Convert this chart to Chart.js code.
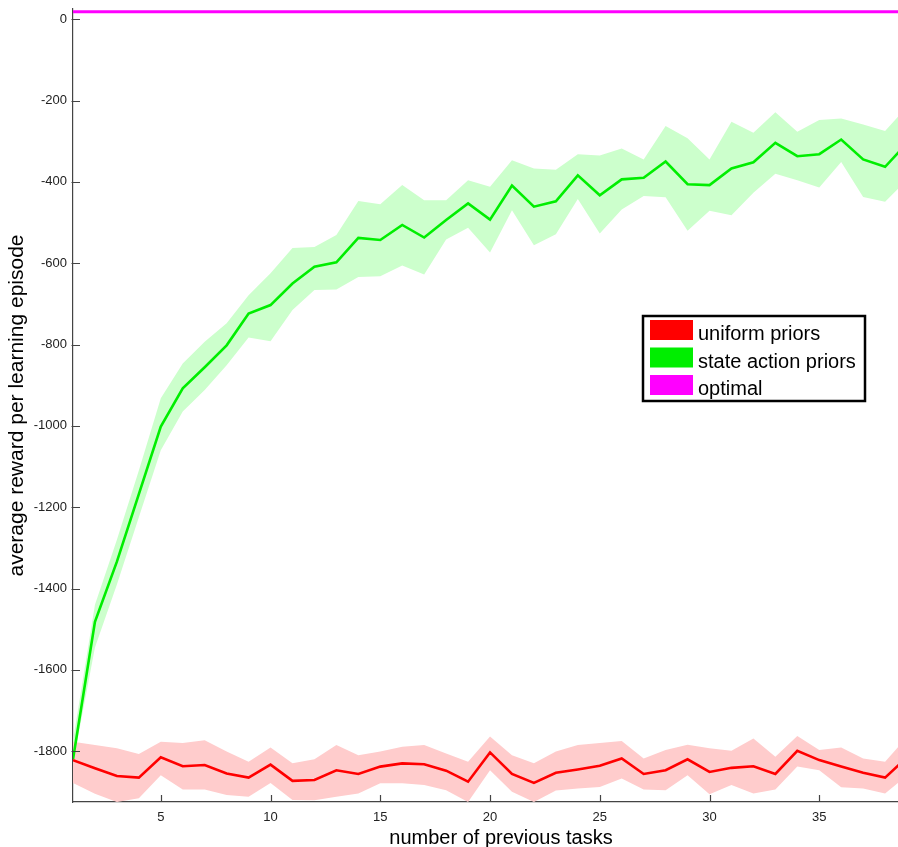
<!DOCTYPE html>
<html>
<head>
<meta charset="utf-8">
<title>Average reward per learning episode</title>
<script src="https://cdn.jsdelivr.net/npm/chart.js@4.4.1/dist/chart.umd.min.js"></script>
<style>
  html, body { margin: 0; padding: 0; background: #ffffff; overflow: hidden; }
  #wrap { width: 930px; height: 847px; }
</style>
</head>
<body>
<div id="wrap"><canvas id="chart" width="930" height="847"></canvas></div>
<script>
// Number of previously learned tasks
const TASKS = [1, 2, 3, 4, 5, 6, 7, 8, 9, 10, 11, 12, 13, 14, 15, 16, 17, 18, 19, 20,
               21, 22, 23, 24, 25, 26, 27, 28, 29, 30, 31, 32, 33, 34, 35, 36, 37, 38, 39];

// Uniform priors: mean reward and its spread band
const UNIFORM_MEAN = [-1822, -1842, -1861, -1865, -1815, -1837, -1834, -1855, -1865, -1833,
                      -1873, -1871, -1847, -1856, -1838, -1830, -1832, -1848, -1875, -1803,
                      -1856, -1878, -1853, -1845, -1836, -1818, -1856, -1847, -1820, -1851,
                      -1841, -1837, -1856, -1799, -1822, -1838, -1853, -1865, -1815];
const UNIFORM_UPPER = [-1777, -1785, -1793, -1807, -1777, -1780, -1773, -1801, -1826, -1791,
                       -1830, -1820, -1785, -1810, -1801, -1789, -1785, -1806, -1826, -1764,
                       -1810, -1830, -1801, -1785, -1780, -1775, -1818, -1797, -1784, -1793,
                       -1799, -1769, -1814, -1763, -1797, -1791, -1818, -1826, -1765];
const UNIFORM_LOWER = [-1878, -1905, -1925, -1916, -1859, -1894, -1894, -1908, -1912, -1878,
                       -1920, -1921, -1912, -1904, -1879, -1879, -1883, -1896, -1925, -1847,
                       -1900, -1925, -1897, -1892, -1888, -1867, -1894, -1896, -1859, -1906,
                       -1883, -1904, -1894, -1838, -1847, -1889, -1892, -1904, -1860];

// State action priors: mean reward and its spread band
const SAP_MEAN = [-1820, -1482, -1334, -1168, -1002, -908, -856, -802, -724, -703,
                  -650, -609, -598, -538, -543, -506, -537, -494, -453, -493,
                  -409, -461, -448, -384, -433, -394, -390, -350, -406, -408,
                  -367, -352, -304, -337, -332, -296, -345, -363, -305];
const SAP_UPPER = [-1775, -1440, -1280, -1110, -932, -847, -793, -748, -679, -625,
                   -563, -560, -531, -447, -455, -408, -445, -445, -396, -412,
                   -347, -367, -370, -332, -335, -318, -345, -263, -293, -345,
                   -252, -279, -229, -277, -248, -244, -259, -275, -215];
const SAP_LOWER = [-1830, -1545, -1390, -1225, -1060, -965, -912, -851, -783, -792,
                   -715, -666, -665, -634, -632, -606, -628, -542, -513, -574,
                   -470, -556, -529, -442, -527, -468, -435, -438, -520, -471,
                   -482, -427, -380, -396, -414, -351, -437, -449, -395];

// Optimal reward (constant reference level)
const OPTIMAL_X = [1, 40];
const OPTIMAL_Y = [18, 18];

// Axis ticks
const X_TICKS = [5, 10, 15, 20, 25, 30, 35];
const Y_TICKS = [0, -200, -400, -600, -800, -1000, -1200, -1400, -1600, -1800];

const FONT = "'Liberation Sans', Arial, Helvetica, sans-serif";

function pts(xs, ys) { return xs.map((x, i) => ({ x: x, y: ys[i] })); }

// Inward tick marks on both axes
const innerTicks = {
  id: 'innerTicks',
  afterDraw(chart) {
    const { ctx, chartArea, scales } = chart;
    ctx.save();
    ctx.strokeStyle = '#444';
    ctx.lineWidth = 1.2;
    ctx.beginPath();
    X_TICKS.forEach(v => {
      const px = Math.round(scales.x.getPixelForValue(v)) + 0.5;
      ctx.moveTo(px, chartArea.bottom);
      ctx.lineTo(px, chartArea.bottom - 7);
    });
    Y_TICKS.forEach(v => {
      const py = Math.round(scales.y.getPixelForValue(v)) + 0.5;
      ctx.moveTo(chartArea.left - 1.5, py);
      ctx.lineTo(chartArea.left + 7, py);
    });
    ctx.stroke();
    ctx.restore();
  }
};

// Boxed legend placed inside the plot
const boxLegend = {
  id: 'boxLegend',
  afterDraw(chart) {
    const { ctx } = chart;
    const items = chart.data.datasets.filter(d => d.inLegend);
    const box = { x: 643, y: 316, w: 222, h: 85 };
    ctx.save();
    ctx.fillStyle = '#ffffff';
    ctx.fillRect(box.x, box.y, box.w, box.h);
    ctx.lineWidth = 2.5;
    ctx.strokeStyle = '#000000';
    ctx.strokeRect(box.x, box.y, box.w, box.h);
    ctx.font = '20px ' + FONT;
    ctx.textBaseline = 'alphabetic';
    items.forEach((d, i) => {
      const top = 320 + i * 27.5;
      ctx.fillStyle = d.borderColor;
      ctx.fillRect(650, top, 43, 20);
      ctx.fillStyle = '#000000';
      ctx.fillText(d.label, 698, top + 20);
    });
    ctx.restore();
  }
};

const bandCommon = { borderWidth: 0, pointRadius: 0, tension: 0, order: 3 };
const lineCommon = { borderWidth: 2.6, pointRadius: 0, tension: 0, fill: false };

new Chart(document.getElementById('chart'), {
  type: 'line',
  data: {
    datasets: [
      { ...lineCommon, label: 'uniform priors', inLegend: true, data: pts(TASKS, UNIFORM_MEAN),
        borderColor: '#ff0000', order: 1 },
      { ...lineCommon, label: 'state action priors', inLegend: true, data: pts(TASKS, SAP_MEAN),
        borderColor: '#00ee00', order: 1 },
      { ...lineCommon, label: 'optimal', inLegend: true, data: pts(OPTIMAL_X, OPTIMAL_Y),
        borderColor: '#ff00ff', borderWidth: 3, order: 0 },
      { ...bandCommon, label: 'uniform upper', data: pts(TASKS, UNIFORM_UPPER),
        backgroundColor: '#ffcccc', borderColor: '#ffcccc', fill: '+1' },
      { ...bandCommon, label: 'uniform lower', data: pts(TASKS, UNIFORM_LOWER),
        backgroundColor: '#ffcccc', borderColor: '#ffcccc', fill: false },
      { ...bandCommon, label: 'sap upper', data: pts(TASKS, SAP_UPPER),
        backgroundColor: '#ccffcc', borderColor: '#ccffcc', fill: '+1' },
      { ...bandCommon, label: 'sap lower', data: pts(TASKS, SAP_LOWER),
        backgroundColor: '#ccffcc', borderColor: '#ccffcc', fill: false }
    ]
  },
  options: {
    responsive: false,
    animation: false,
    devicePixelRatio: 1,
    layout: { padding: { left: 0, top: 9, right: 1, bottom: 0 } },
    plugins: {
      legend: { display: false },
      tooltip: { enabled: false },
      filler: { propagate: false }
    },
    scales: {
      x: {
        type: 'linear',
        position: 'bottom',
        min: 1,
        max: 40,
        grid: { display: false, drawTicks: false },
        border: { display: true, color: '#444', width: 1.2 },
        ticks: { color: '#222', font: { family: FONT, size: 13 }, padding: 8,
                 callback: v => String(v) },
        afterBuildTicks(scale) { scale.ticks = X_TICKS.map(v => ({ value: v })); },
        afterFit(scale) {
          scale.height = 45;
          scale.paddingLeft = 0;
          scale.paddingRight = 0;
        },
        title: {
          display: true,
          text: 'number of previous tasks',
          color: '#000',
          font: { family: FONT, size: 20, lineHeight: 1.0 },
          padding: { top: 0, bottom: -1 }
        }
      },
      y: {
        type: 'linear',
        position: 'left',
        min: -1925,
        max: 25,
        grid: { display: false, drawTicks: false },
        border: { display: true, color: '#444', width: 1.2 },
        ticks: { color: '#222', font: { family: FONT, size: 13 }, padding: 6,
                 callback: v => String(v) },
        afterBuildTicks(scale) { scale.ticks = Y_TICKS.map(v => ({ value: v })); },
        afterFit(scale) {
          scale.width = 73;
          scale.paddingTop = 0;
          scale.paddingBottom = 0;
        },
        title: {
          display: true,
          text: 'average reward per learning episode',
          color: '#000',
          font: { family: FONT, size: 21, lineHeight: 1.2 },
          padding: { top: 5, bottom: 0 }
        }
      }
    }
  },
  plugins: [innerTicks, boxLegend]
});
</script>
</body>
</html>
